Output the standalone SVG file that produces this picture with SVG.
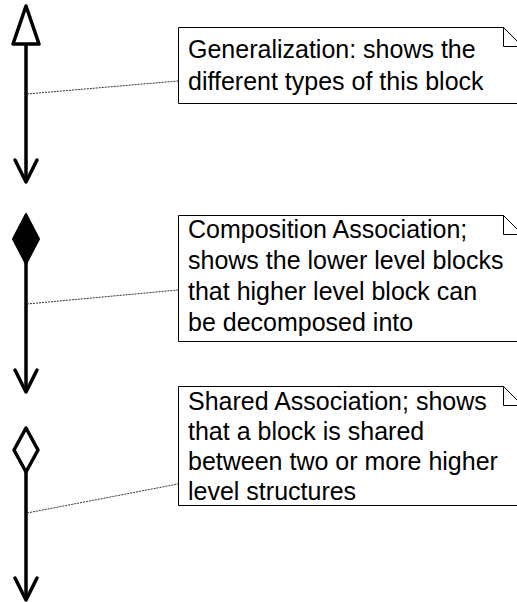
<svg xmlns="http://www.w3.org/2000/svg" width="517" height="602" viewBox="0 0 517 602">
<style>
.shaft{stroke:#000;stroke-width:3.5;fill:none;stroke-linejoin:miter}
.head{stroke:#000;stroke-width:3.5;fill:none;stroke-linecap:round;stroke-linejoin:round}
.note{fill:#fff;stroke:#000;stroke-width:1}
.fold{fill:none;stroke:#000;stroke-width:1}
.anchor{stroke:#333;stroke-width:1;stroke-dasharray:2,1;fill:none}
text{font-family:"Liberation Sans",Arial,sans-serif;font-size:25px;fill:#000}
</style>
<rect width="517" height="602" fill="#fff"/>
<g id="connectors">
<g id="generalization">
<line class="shaft" x1="26" y1="44" x2="26" y2="181"/>
<polygon points="26,6 39,44 13,44" fill="#fff" stroke="#000" stroke-width="3.5" stroke-linejoin="round"/>
<polyline class="head" points="15,160 26,182 37,160"/>
</g>
<g id="composition">
<line class="shaft" x1="26" y1="262" x2="26" y2="391"/>
<polygon points="26,214 39,239 26,264 13,239" fill="#000" stroke="#000" stroke-width="2" stroke-linejoin="round"/>
<polyline class="head" points="15,370 26,392 37,370"/>
</g>
<g id="shared">
<line class="shaft" x1="26" y1="472" x2="26" y2="599"/>
<polygon points="26,428 38,450 26,472 14,450" fill="#fff" stroke="#000" stroke-width="3.5" stroke-linejoin="round"/>
<polyline class="head" points="15,578 26,600 37,578"/>
</g>
<line class="anchor" x1="27" y1="94" x2="178" y2="81"/>
<line class="anchor" x1="27" y1="304" x2="178" y2="290"/>
<line class="anchor" x1="27" y1="513" x2="178" y2="484"/>
</g>
<g id="note1">
<path class="note" d="M178.5,27.5 H503.5 L522.5,46.5 V103.5 H178.5 Z"/>
<path class="fold" d="M503.5,27.5 V46.5 H522.5"/>
<text x="188" y="58">Generalization: shows the</text>
<text x="188" y="90">different types of this block</text>
</g>
<g id="note2">
<path class="note" d="M178.5,215.5 H503.5 L522.5,234.5 V341.5 H178.5 Z"/>
<path class="fold" d="M503.5,215.5 V234.5 H522.5"/>
<text x="188" y="238">Composition Association;</text>
<text x="188" y="269">shows the lower level blocks</text>
<text x="188" y="300">that higher level block can</text>
<text x="188" y="331">be decomposed into</text>
</g>
<g id="note3">
<path class="note" d="M178.5,386.5 H503.5 L522.5,405.5 V505.5 H178.5 Z"/>
<path class="fold" d="M503.5,386.5 V405.5 H522.5"/>
<text x="188" y="410">Shared Association; shows</text>
<text x="188" y="440">that a block is shared</text>
<text x="188" y="470">between two or more higher</text>
<text x="188" y="500">level structures</text>
</g>
</svg>
